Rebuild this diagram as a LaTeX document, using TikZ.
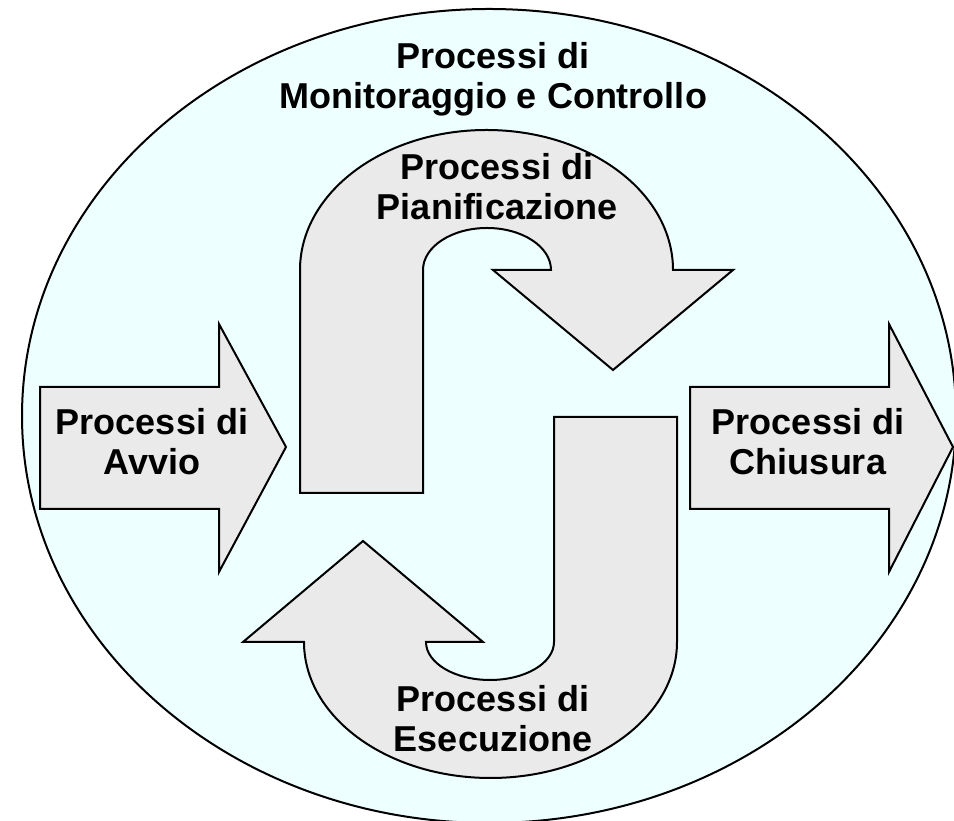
\documentclass[tikz,border=0pt]{standalone}
\usepackage{fontspec}
\setmainfont{Liberation Sans}
\definecolor{cycleback}{HTML}{EEFFFF}
\definecolor{arrowfill}{HTML}{EAEAEA}
\begin{document}
\begin{tikzpicture}[x=1pt,y=1pt,
  procarrow/.style={draw=black, line width=2pt, line join=miter, fill=arrowfill},
  proclabel/.style={anchor=base, align=center, inner sep=0pt,
    font=\fontsize{36}{40}\selectfont\bfseries}]
\useasboundingbox (0,0) rectangle (954,821);
\clip (0,0) rectangle (954,821);

% outer cycle: monitoring and control
\draw[line width=2pt, fill=cycleback] (489,405) ellipse [x radius=467, y radius=407];

% initiating arrow
\draw[procarrow] (40,434) -- (219,434) -- (219,497) -- (286,374) -- (219,249)
  -- (219,312) -- (40,312) -- cycle;

% closing arrow
\draw[procarrow] (690,434) -- (889,434) -- (889,497) -- (953,374) -- (889,249)
  -- (889,312) -- (690,312) -- cycle;

% planning: bent arrow over the top
\draw[procarrow] (300,328) -- (300,551)
  arc[start angle=180, end angle=0, x radius=186.5, y radius=140]
  -- (733,551) -- (613,451) -- (493,551) -- (551,551)
  arc[start angle=0, end angle=180, x radius=64, y radius=42]
  -- (423,328) -- cycle;

% executing: bent arrow under the bottom
\draw[procarrow] (677,404) -- (554,404) -- (554,179)
  arc[start angle=0, end angle=-180, x radius=64, y radius=38]
  -- (483,179) -- (363,280) -- (243,179) -- (304,179)
  arc[start angle=180, end angle=360, x radius=186.5, y radius=136]
  -- cycle;

% labels (anchored at the baseline of the last line)
\node[proclabel] (monitor) at (493,712) {Processi di\\Monitoraggio e Controllo};
\node[proclabel] (plan) at (497,601) {Processi di\\Pianificazione};
\node[proclabel] (start) at (152,346) {Processi di\\Avvio};
\node[proclabel] (close) at (808,346) {Processi di\\Chiusura};
\node[proclabel] (exec) at (493,69) {Processi di\\Esecuzione};
\end{tikzpicture}
\end{document}
